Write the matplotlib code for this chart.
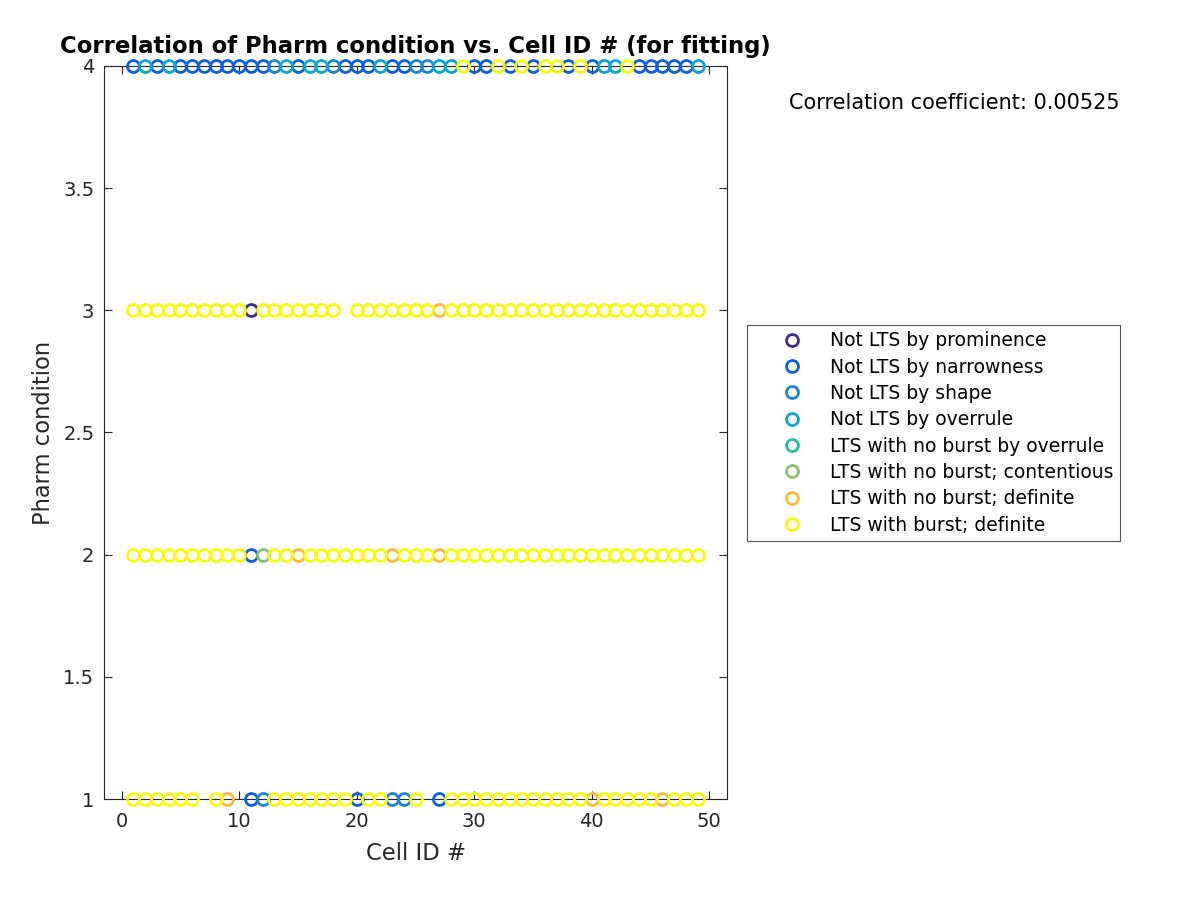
import matplotlib
matplotlib.use("Agg")
import matplotlib.pyplot as plt
from matplotlib.lines import Line2D

# ---- data ----
category_names = [
    "Not LTS by prominence",
    "Not LTS by narrowness",
    "Not LTS by shape",
    "Not LTS by overrule",
    "LTS with no burst by overrule",
    "LTS with no burst; contentious",
    "LTS with no burst; definite",
    "LTS with burst; definite",
]
category_colors = ["#3a2f8c", "#0b5fe0", "#1a84d8", "#0aa6cf",
                   "#2db9a2", "#8cc071", "#fcbb3c", "#f9f90f"]

cell_ids = list(range(1, 50))
pharm_levels = [1, 2, 3, 4]

# category code (1..8) of each cell for each pharm condition; 0 = no point
row_pharm1 = [8, 8, 8, 8, 8, 8, 0, 8, 7, 0, 2, 3, 8, 8, 8, 8, 8, 8, 8, 2,
              8, 8, 3, 3, 8, 0, 2, 8, 8, 8, 8, 8, 8, 8, 8, 8, 8, 8, 8, 7,
              8, 8, 8, 8, 8, 7, 8, 8, 8]
row_pharm2 = [8, 8, 8, 8, 8, 8, 8, 8, 8, 8, 2, 6, 8, 8, 7, 8, 8, 8, 8, 8,
              8, 8, 7, 8, 8, 8, 7, 8, 8, 8, 8, 8, 8, 8, 8, 8, 8, 8, 8, 8,
              8, 8, 8, 8, 8, 8, 8, 8, 8]
row_pharm3 = [8, 8, 8, 8, 8, 8, 8, 8, 8, 8, 1, 8, 8, 8, 8, 8, 8, 8, 0, 8,
              8, 8, 8, 8, 8, 8, 7, 8, 8, 8, 8, 8, 8, 8, 8, 8, 8, 8, 8, 8,
              8, 8, 8, 8, 8, 8, 8, 8, 8]
row_pharm4 = [2, 4, 2, 4, 2, 2, 2, 2, 2, 2, 2, 2, 3, 4, 2, 4, 4, 3, 2, 2,
              2, 4, 2, 2, 3, 3, 4, 4, 8, 2, 2, 8, 2, 8, 2, 8, 8, 2, 8, 2,
              4, 4, 8, 2, 2, 2, 2, 2, 4]

title_text = "Correlation of Pharm condition vs. Cell ID # (for fitting)"
corr_text = "Correlation coefficient: 0.00525"
x_ticks = [0, 10, 20, 30, 40, 50]
y_ticks = [1, 1.5, 2, 2.5, 3, 3.5, 4]

# ---- figure ----
plt.rcParams['font.family'] = ['DejaVu Sans']
fig = plt.figure(figsize=(12, 9), dpi=100)
ax = fig.add_axes([0.0867, 0.1122, 0.5191, 0.8145])

MS = 8.6
MEW = 2.0
rows = [row_pharm1, row_pharm2, row_pharm3, row_pharm4]
for k in range(len(category_names)):
    xs, ys = [], []
    for level, row in zip(pharm_levels, rows):
        for c, code in zip(cell_ids, row):
            if code == k + 1:
                xs.append(c)
                ys.append(level)
    if xs:
        ax.plot(xs, ys, linestyle="none", marker="o", markersize=MS,
                markerfacecolor="none", markeredgecolor=category_colors[k],
                markeredgewidth=MEW, clip_on=False, zorder=3 + k)

ax.set_xlim(-1.5, 51.5)
ax.set_ylim(1, 4)
ax.set_xticks(x_ticks)
ax.set_yticks(y_ticks)
ax.set_yticklabels([("%g" % v) for v in y_ticks])
ax.tick_params(direction="in", top=True, right=True, length=6,
               width=0.8, labelsize=14, colors="#262626")
ax.tick_params(axis="x", pad=9)
ax.tick_params(axis="y", pad=7)
for s in ax.spines.values():
    s.set_color("#262626")
    s.set_linewidth(0.8)

ax.set_xlabel("Cell ID #", fontsize=16.3, color="#262626", labelpad=8)
ax.set_ylabel("Pharm condition", fontsize=16.3, color="#262626", labelpad=6)
ax.set_title(title_text, fontsize=16.4, fontweight="bold", pad=9)

fig.text(0.933, 1 - 103 / 900, corr_text, ha="right", va="center",
         fontsize=15, color="black")

handles = [Line2D([], [], linestyle="none", marker="o", markersize=MS,
                  markerfacecolor="none", markeredgecolor=col,
                  markeredgewidth=MEW) for col in category_colors]
leg = fig.legend(handles, category_names, loc="center left",
                 bbox_to_anchor=(0.6225, 1 - 433 / 900), fontsize=13.5,
                 frameon=True, fancybox=False, edgecolor="#262626",
                 borderpad=0.34, labelspacing=0.39, handletextpad=-0.05,
                 handlelength=4.12, borderaxespad=0)
leg.get_frame().set_linewidth(0.8)

fig.savefig("out.png", dpi=100)
